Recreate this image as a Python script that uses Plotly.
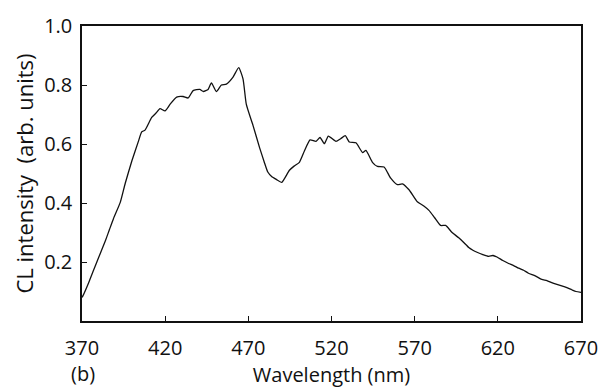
import plotly.graph_objects as go

# Wavelength (nm) and CL intensity (arb. units)
wavelength = [370, 370.6, 374, 377, 380, 384, 386.5, 388.9, 393, 396, 400, 403.9, 405.9, 407.9,
              411.9, 414.5, 416.9, 419.9, 423, 426.9, 430.8, 433.8, 436.8, 440.8, 443, 445.8,
              447.8, 450.8, 453.8, 456.8, 460.8, 464.2, 466.8, 468.8, 472.8, 476.8, 479.5,
              481.7, 484, 486.8, 490.1, 494.7, 497.5, 500.7, 503.7, 507.1, 510.7, 513.1,
              515.7, 518.1, 522.7, 525.5, 528.3, 530.7, 534.7, 538.7, 540.7, 544.6, 547.6,
              551.6, 555.6, 559.6, 562.6, 566.6, 571.6, 575.5, 578.6, 582, 585.6, 588.6,
              592.5, 596.5, 599.5, 602.5, 605, 607.5, 611, 614.5, 617, 619.5, 623, 626.5,
              629.5, 632.5, 635.5, 638.4, 642.5, 646.4, 649.5, 652.4, 655.5, 658.4, 661.5,
              664.4, 667, 670]
intensity = [0.08, 0.086, 0.13, 0.173, 0.215, 0.271, 0.31, 0.347, 0.402, 0.467, 0.543, 0.609,
             0.641, 0.647, 0.69, 0.705, 0.72, 0.712, 0.735, 0.759, 0.761, 0.756, 0.781, 0.785,
             0.778, 0.785, 0.807, 0.778, 0.80, 0.803, 0.827, 0.859, 0.821, 0.734, 0.663,
             0.587, 0.54, 0.505, 0.49, 0.48, 0.47, 0.511, 0.525, 0.538, 0.576, 0.614, 0.609,
             0.622, 0.601, 0.627, 0.609, 0.618, 0.628, 0.607, 0.604, 0.571, 0.578, 0.538,
             0.524, 0.522, 0.484, 0.462, 0.465, 0.445, 0.404, 0.39, 0.375, 0.35, 0.324,
             0.324, 0.3, 0.282, 0.266, 0.249, 0.24, 0.233, 0.225, 0.219, 0.222, 0.217,
             0.205, 0.195, 0.188, 0.179, 0.172, 0.162, 0.153, 0.141, 0.137, 0.13, 0.124,
             0.119, 0.113, 0.106, 0.1, 0.097]

x_ticks = [370, 420, 470, 520, 570, 620, 670]
y_ticks = [0.2, 0.4, 0.6, 0.8, 1.0]
y_tick_text = ["0.2", "0.4", "0.6", "0.8", "1.0"]

FONT = "Open Sans, Liberation Sans, sans-serif"

fig = go.Figure()
fig.add_trace(go.Scatter(
    x=wavelength, y=intensity, mode="lines",
    line=dict(color="#111111", width=1.3, shape="spline", smoothing=0.5),
    showlegend=False, hoverinfo="skip",
))

fig.update_layout(
    width=610, height=391,
    margin=dict(l=82, r=27, t=17, b=68),
    paper_bgcolor="white", plot_bgcolor="white",
    font=dict(family=FONT, color="#111111", size=20),
    xaxis=dict(
        range=[370, 670], tickvals=x_ticks, ticktext=[str(v) for v in x_ticks],
        ticks="inside", ticklen=5, tickwidth=1.2, tickcolor="#111111",
        showline=True, linecolor="#111111", linewidth=1.5, mirror=True,
        showgrid=False, zeroline=False,
        tickfont=dict(size=20), ticklabelstandoff=8,
        title=dict(text="Wavelength (nm)", font=dict(size=20), standoff=4),
    ),
    yaxis=dict(
        range=[0, 1.0], tickvals=y_ticks, ticktext=y_tick_text,
        ticks="inside", ticklen=5, tickwidth=1.2, tickcolor="#111111",
        showline=True, linecolor="#111111", linewidth=1.5, mirror=True,
        showgrid=False, zeroline=False,
        tickfont=dict(size=20), ticklabelstandoff=4,
        title=dict(text="CL intensity  (arb. units)", font=dict(size=22), standoff=4),
    ),
    annotations=[dict(
        text="(b)", x=(83 - 82) / (610 - 82 - 27), y=-(377 - 323) / (323 - 17),
        xref="paper", yref="paper", showarrow=False,
        xanchor="center", yanchor="middle", font=dict(size=20),
    )],
)

fig.write_html("out.html")
